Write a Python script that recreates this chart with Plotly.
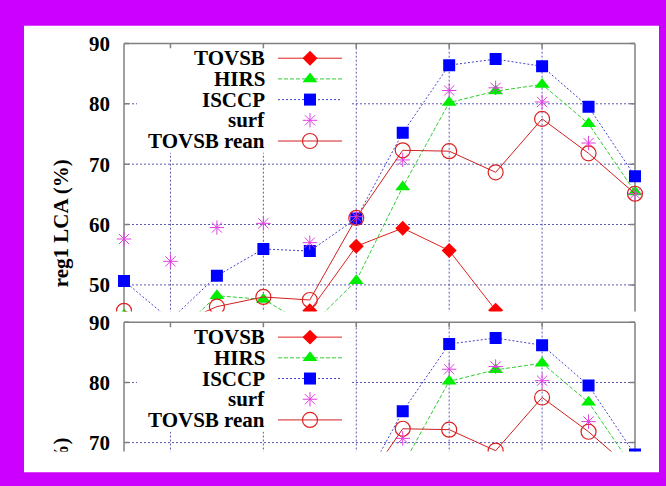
import plotly.graph_objects as go

# Monthly low-cloud amount, region 1 (%)
months = list(range(1, 13))
tovsb = [None, None, None, None, 45.7, 56.4, 59.4, 55.7, 45.8, None, None, None]
hirs = [45.0, 41.0, 48.2, 47.6, 43.1, 50.7, 66.2, 80.2, 82.1, 83.2, 76.7, 65.4]
isccp = [50.65, 44.2, 51.5, 55.95, 55.6, 61.0, 75.2, 86.4, 87.4, 86.2, 79.5, 68.0]
surf = [57.6, 53.9, 59.5, 60.2, 57.0, 61.3, 70.7, 82.2, 82.65, 80.3, 73.5, 65.1]
tovsb_rean = [45.7, 43.0, 46.4, 48.0, 47.5, 61.1, 72.3, 72.15, 68.65, 77.5, 71.8, 65.1]

series_names = ["TOVSB", "HIRS", "ISCCP", "surf", "TOVSB rean"]
series_values = [tovsb, hirs, isccp, surf, tovsb_rean]
y_ticks = [50, 60, 70, 80, 90]
x_grid = [2, 4, 6, 8, 10]
y_title = "reg1 LCA (%)"
y_title_end = "(%)"

# ---------------------------------------------------------------- layout
W, H = 666, 486
MAGENTA = "#cc00ff"
FONT = "Liberation Serif"
FONT_SIZE = 21
GRID = "#5a5ab4"
FRAME = "#808080"

M1_PX, M12_PX = 124.0, 635.0          # pixel columns of month 1 and month 12
PPM = (M12_PX - M1_PX) / 11.0
XDOM_PX = (111.0, 650.0)


def month_at(xpx):
    return 1 + (xpx - M1_PX) / PPM


x_range = [month_at(XDOM_PX[0]), month_at(XDOM_PX[1])]
x_domain = [XDOM_PX[0] / W, XDOM_PX[1] / W]

# two stacked views of the same panel
panels = [
    dict(y90=40.0, ppu=6.125, top=32.0, bottom=312.0, legend_dy=0.0),
    dict(y90=323.0, ppu=6.1, top=315.0, bottom=454.0, legend_dy=283.0),
]

styles = {
    "TOVSB": dict(mode="lines+markers",
                  line=dict(color="#e02020", width=1),
                  marker=dict(symbol="diamond", size=11.5, color="#ff0000")),
    "HIRS": dict(mode="lines+markers",
                 line=dict(color="#33cc33", width=1, dash="4px,2px"),
                 marker=dict(symbol="triangle-up", size=13, color="#00ee00")),
    "ISCCP": dict(mode="lines+markers",
                  line=dict(color="#4444cc", width=1, dash="2px,2px"),
                  marker=dict(symbol="square", size=12, color="#0000ff")),
    "surf": dict(mode="markers",
                 marker=dict(symbol="asterisk-open", size=12, color="#e040e0",
                             line=dict(color="#e040e0", width=1))),
    "TOVSB rean": dict(mode="lines+markers",
                       line=dict(color="#d02020", width=1),
                       marker=dict(symbol="circle-open", size=15, color="#dd2222",
                                   line=dict(color="#dd2222", width=1.2))),
}

fig = go.Figure()
shapes = []
annotations = []

# white page inside the magenta frame
shapes.append(dict(type="rect", xref="paper", yref="paper", layer="below",
                   x0=24 / W, x1=659 / W, y0=1 - 475 / H, y1=1 - 22 / H,
                   fillcolor="white", line=dict(width=0)))

for i, p in enumerate(panels):
    xa = "x" if i == 0 else "x2"
    ya = "y" if i == 0 else "y2"
    ymin = 90 - (p["bottom"] - p["y90"]) / p["ppu"]
    ymax = 90 + (p["y90"] - p["top"]) / p["ppu"]
    ylow = ymin - 5

    def val_at(ypx, p=p):
        return 90 - (ypx - p["y90"]) / p["ppu"]

    for name, vals in zip(series_names, series_values):
        fig.add_trace(go.Scatter(x=months, y=vals, xaxis=xa, yaxis=ya,
                                 showlegend=False, hoverinfo="skip",
                                 **styles[name]))

    ref = dict(xref=xa, yref=ya, layer="below")
    grid_line = dict(color=GRID, width=1, dash="2px,2px")
    for v in y_ticks[:-1]:
        shapes.append(dict(type="line", x0=1, x1=12, y0=v, y1=v, line=grid_line, **ref))
    for m in x_grid:
        shapes.append(dict(type="line", x0=m, x1=m, y0=ylow, y1=90, line=grid_line, **ref))

    # opaque key box
    shapes.append(dict(type="rect", x0=month_at(137), x1=month_at(351),
                       y0=val_at(151 + p["legend_dy"]), y1=90,
                       fillcolor="white", line=dict(width=0), **ref))

    # border and inward ticks
    frame = dict(color=FRAME, width=1.5)
    shapes.append(dict(type="line", x0=1, x1=1, y0=ylow, y1=90, line=frame, **ref))
    shapes.append(dict(type="line", x0=12, x1=12, y0=ylow, y1=90, line=frame, **ref))
    shapes.append(dict(type="line", x0=1, x1=12, y0=90, y1=90, line=frame, **ref))
    tx = 5 / PPM
    ty = 5 / p["ppu"]
    for v in y_ticks:
        shapes.append(dict(type="line", x0=1, x1=1 + tx, y0=v, y1=v, line=frame, **ref))
        shapes.append(dict(type="line", x0=12 - tx, x1=12, y0=v, y1=v, line=frame, **ref))
    for m in x_grid:
        shapes.append(dict(type="line", x0=m, x1=m, y0=90 - ty, y1=90, line=frame, **ref))

    axis_common = dict(showgrid=False, zeroline=False, showline=False, fixedrange=True)
    fig.update_layout({
        ("xaxis" if i == 0 else "xaxis2"): dict(
            domain=x_domain, range=x_range, anchor=ya, showticklabels=False,
            ticks="", **axis_common),
        ("yaxis" if i == 0 else "yaxis2"): dict(
            domain=[1 - p["bottom"] / H, 1 - p["top"] / H], range=[ymin, ymax],
            anchor=xa, tickmode="array",
            tickvals=[v for v in y_ticks if ymin <= v <= ymax],
            ticks="", tickfont=dict(family=FONT, size=FONT_SIZE, color="black",
                                    weight="bold"),
            **axis_common),
    })

    # key: right-aligned text, sample line and symbol on the right
    for k, name in enumerate(series_names):
        yy = 55 + 21 * k + p["legend_dy"]
        st = styles[name]
        if "lines" in st["mode"]:
            fig.add_trace(go.Scatter(x=[278, 342], y=[yy, yy], mode="lines",
                                     line=st["line"], xaxis="x3", yaxis="y3",
                                     showlegend=False, hoverinfo="skip"))
        fig.add_trace(go.Scatter(x=[310], y=[yy], mode="markers",
                                 marker=st["marker"], xaxis="x3", yaxis="y3",
                                 showlegend=False, hoverinfo="skip"))
        annotations.append(dict(xref="paper", yref="paper", x=266 / W, y=1 - yy / H,
                                xanchor="right", yanchor="middle", showarrow=False,
                                text=name, height=20, valign="middle", borderpad=0,
                                font=dict(family=FONT, size=FONT_SIZE, color="black",
                                          weight="bold")))

# y-axis title (full in the upper view, only its end shows in the lower one)
title_font = dict(family=FONT, size=FONT_SIZE, color="black", weight="bold")
annotations.append(dict(xref="paper", yref="paper", x=61 / W, y=1 - 222.5 / H,
                        xanchor="center", yanchor="middle", showarrow=False,
                        textangle=-90, text=y_title, font=title_font))
annotations.append(dict(xref="paper", yref="paper", x=61 / W, y=1 - 447 / H,
                        xanchor="center", yanchor="middle", showarrow=False,
                        textangle=-90, text=y_title_end, font=title_font,
                        width=14, align="right", borderpad=0))

fig.update_layout(
    width=W, height=H,
    margin=dict(l=0, r=0, t=0, b=0),
    paper_bgcolor=MAGENTA,
    plot_bgcolor="rgba(0,0,0,0)",
    showlegend=False,
    xaxis3=dict(domain=[0, 1], range=[0, W], anchor="y3", visible=False, fixedrange=True),
    yaxis3=dict(domain=[0, 1], range=[H, 0], anchor="x3", visible=False, fixedrange=True),
    shapes=shapes,
    annotations=annotations,
)

fig.write_html("out.html")
